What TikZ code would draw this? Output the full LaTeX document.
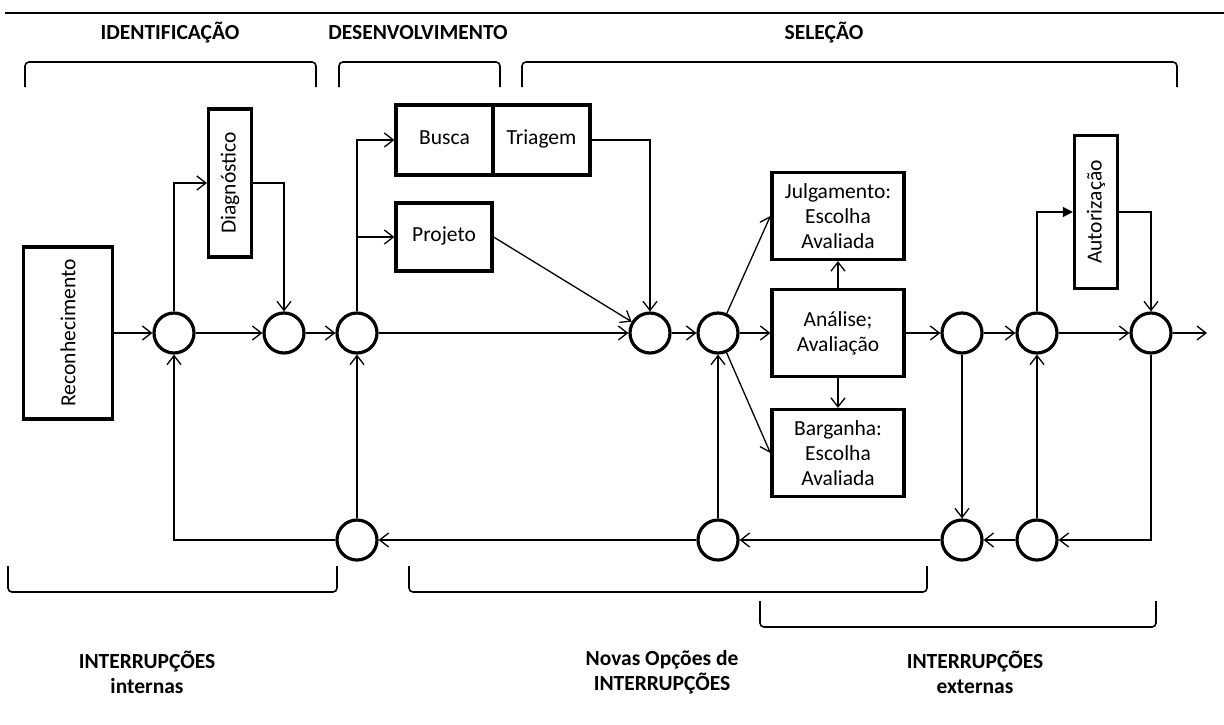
\documentclass[tikz,border=0pt]{standalone}
\usepackage{fontspec}
\setmainfont{Carlito}
\usepackage{graphicx}
\usepackage{tikz}
\usetikzlibrary{arrows.meta}
\definecolor{ink}{HTML}{000000}
\tikzset{
  box/.style={draw=ink, line width=3.2pt, inner sep=0pt, align=center, font=\fontsize{21.5}{25}\selectfont},
  one/.style={text height=14pt, text depth=5pt},
  junc/.style={circle, draw=ink, line width=3.2pt, minimum size=40pt, inner sep=0pt},
  flow/.style={draw=ink, line width=1.3pt, -{Straight Barb[length=9pt,width=14pt]}},
  flowf/.style={draw=ink, line width=1.3pt, -{Triangle[length=10pt,width=10pt]}},
  brk/.style={draw=ink, line width=1.6pt, rounded corners=4pt},
  hdr/.style={text=ink, font=\bfseries\fontsize{21.5}{25}\selectfont, align=center},
}

\begin{document}
\begin{tikzpicture}[x=1pt,y=-1pt]
  \useasboundingbox (0,0) rectangle (1224,724);
  \draw[ink, line width=2.4pt] (5,13) -- (1224,13);
  % fases
  \node[hdr] (hid) at (170,33) {IDENTIFICAÇÃO};
  \node[hdr] (hdes) at (418,33) {DESENVOLVIMENTO};
  \node[hdr] (hsel) at (824,33) {SELEÇÃO};
  \foreach \a/\b in {25/316,339/500,522/1177}
    \draw[brk] (\a,87) -- (\a,62) -- (\b,62) -- (\b,87);
  % rotinas
  \node[box, minimum width=89pt, minimum height=172pt] (recon) at (68,333) {\rotatebox{90}{Reconhecimento}};
  \node[box, minimum width=43pt, minimum height=148pt] (diag) at (230,183) {\rotatebox{90}{Diagnóstico}};
  \node[box, one, minimum width=97pt, minimum height=70pt] (busca) at (444.5,140) {Busca};
  \node[box, one, minimum width=97pt, minimum height=70pt] (tri) at (541.5,140) {Triagem};
  \node[box, one, minimum width=96pt, minimum height=68pt] (proj) at (444,237) {Projeto};
  \node[box, minimum width=132pt, minimum height=87pt] (julg) at (838,216) {Julgamento:\\Escolha\\Avaliada};
  \node[box, minimum width=132pt, minimum height=87pt] (anal) at (838,333) {Análise;\\Avaliação};
  \node[box, minimum width=132pt, minimum height=87pt] (barg) at (838,453) {Barganha:\\Escolha\\Avaliada};
  \node[box, minimum width=43pt, minimum height=153pt] (aut) at (1096,212) {\rotatebox{90}{Autorização}};
  % junções
  \foreach \n/\x in {c1/174,c2/284,c3/357,c4/650,c5/718,c6/962,c7/1037,c8/1151}
    \node[junc] (\n) at (\x,333) {};
  \foreach \n/\x in {b1/357,b2/718,b3/962,b4/1037}
    \node[junc] (\n) at (\x,540) {};
  \coordinate (out) at (1207,333);
  % fluxo principal
  \draw[flow] (recon) -- (c1);
  \draw[flow] (c1) -- (c2);
  \draw[flow] (c2) -- (c3);
  \draw[flow] (c3) -- (c4);
  \draw[flow] (c4) -- (c5);
  \draw[flow] (c5) -- (anal);
  \draw[flow] (anal) -- (c6);
  \draw[flow] (c6) -- (c7);
  \draw[flow] (c7) -- (c8);
  \draw[flow] (c8) -- (out);
  \draw[flow] (c1.north) |- (diag.west);
  \draw[flow] (diag.east) -| (c2.north);
  \draw[flow] (c3.north) |- (busca.west);
  \draw[flow] (c3.north) |- (proj.west);
  \draw[flow] (tri.east) -| (c4.north);
  \draw[flow] (proj.east) -- (c4);
  \draw[flow] (c5) -- (julg.west);
  \draw[flow] (c5) -- (barg.west);
  \draw[flow] (anal) -- (julg);
  \draw[flow] (anal) -- (barg);
  \draw[flowf] (c7.north) |- (aut.west);
  \draw[flow] (aut.east) -| (c8.north);
  % interrupções
  \draw[flow] (c8.south) |- (b4.east);
  \draw[flow] (b4) -- (b3);
  \draw[flow] (c6) -- (b3);
  \draw[flow] (b4) -- (c7);
  \draw[flow] (b3) -- (b2);
  \draw[flow] (b2) -- (c5);
  \draw[flow] (b2) -- (b1);
  \draw[flow] (b1) -- (c3);
  \draw[flow] (b1.west) -| (c1.south);
  \foreach \a/\b/\y in {8/337/566,409/927/566,760/1156/601}
    \draw[brk] (\a,\y) -- (\a,\y+26) -- (\b,\y+26) -- (\b,\y);
  \node[hdr] (lint) at (147,672) {INTERRUPÇÕES\\internas};
  \node[hdr] (lnov) at (662,672) {Novas Opções de\\INTERRUPÇÕES};
  \node[hdr] (lext) at (975,672) {INTERRUPÇÕES\\externas};
\end{tikzpicture}
\end{document}
